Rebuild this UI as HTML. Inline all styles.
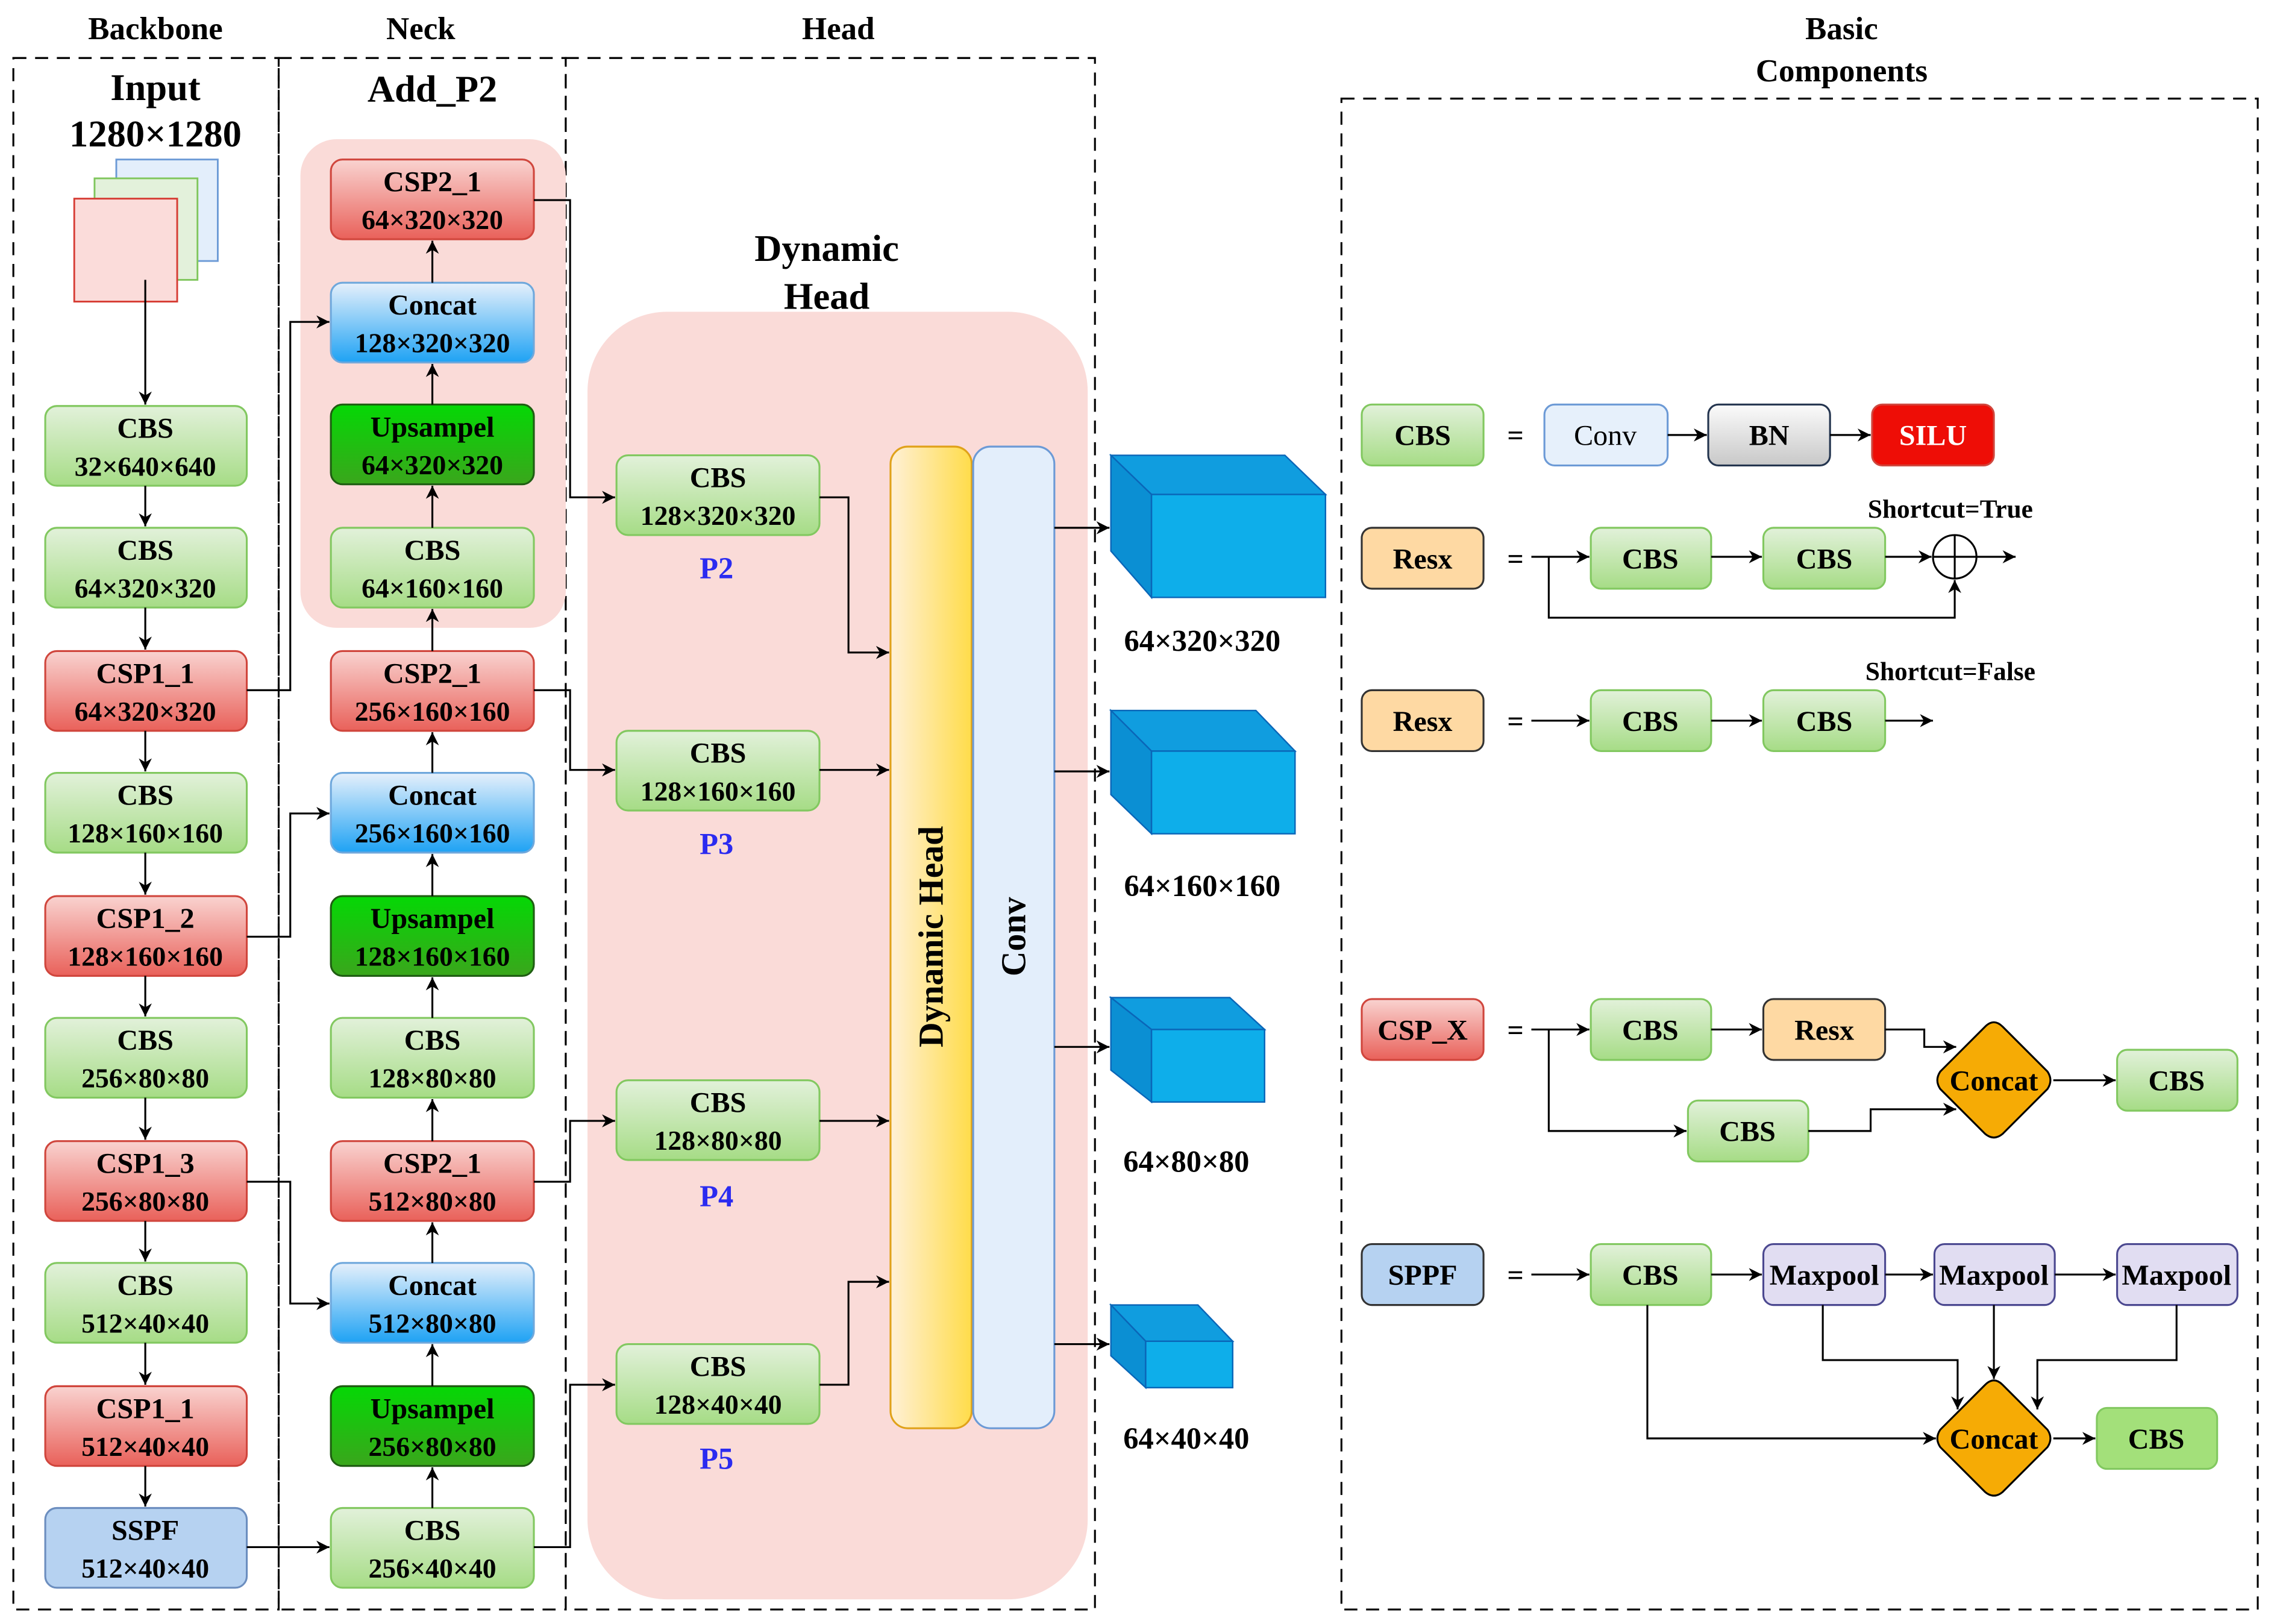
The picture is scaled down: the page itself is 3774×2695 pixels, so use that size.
<!DOCTYPE html>
<html><head><meta charset="utf-8"><style>html,body{margin:0;padding:0;background:#fff}svg{display:block}</style></head>
<body>
<svg xmlns="http://www.w3.org/2000/svg" width="3774" height="2695" viewBox="0 0 1568 1120" font-family="'Liberation Serif', serif" font-weight="bold">
<defs>
<linearGradient id="gG" x1="0" y1="0" x2="0" y2="1"><stop offset="0" stop-color="#e2f1da"/><stop offset="1" stop-color="#a6dc86"/></linearGradient>
<linearGradient id="gR" x1="0" y1="0" x2="0" y2="1"><stop offset="0" stop-color="#f9d3d0"/><stop offset="1" stop-color="#e9615a"/></linearGradient>
<linearGradient id="gB" x1="0" y1="0" x2="0" y2="1"><stop offset="0" stop-color="#e6f0fb"/><stop offset="1" stop-color="#1ea2f4"/></linearGradient>
<linearGradient id="gD" x1="0" y1="0" x2="0" y2="1"><stop offset="0" stop-color="#05d805"/><stop offset="1" stop-color="#3aa61c"/></linearGradient>
<linearGradient id="gN" x1="0" y1="0" x2="0" y2="1"><stop offset="0" stop-color="#fbfbfb"/><stop offset="1" stop-color="#c8c8c8"/></linearGradient>
<linearGradient id="gY" x1="0" y1="0" x2="1" y2="0"><stop offset="0" stop-color="#fff0d6"/><stop offset="1" stop-color="#ffdc4a"/></linearGradient>
<marker id="a" viewBox="0 0 10 10" refX="10" refY="5" markerWidth="9" markerHeight="9" markerUnits="userSpaceOnUse" orient="auto"><path d="M0,0 L10,5 L0,10 L3,5 z" fill="#000"/></marker>
</defs>
<g fill="none" stroke="#000" stroke-width="1.3" stroke-dasharray="9,6">
<rect x="9" y="40" width="183" height="1070"/>
<rect x="192" y="40" width="198" height="1070"/>
<rect x="390" y="40" width="365" height="1070"/>
<rect x="925" y="68" width="632" height="1042"/>
</g>
<g font-size="22" text-anchor="middle">
<text x="107" y="27">Backbone</text><text x="290" y="27">Neck</text><text x="578" y="27">Head</text>
<text x="1270" y="27">Basic</text><text x="1270" y="56">Components</text>
<text x="107" y="69" font-size="26">Input</text><text x="107" y="101" font-size="26">1280×1280</text>
<text x="298" y="70" font-size="26">Add_P2</text>
<text x="570" y="180" font-size="26">Dynamic</text><text x="570" y="213" font-size="26">Head</text>
</g>
<rect x="80" y="110" width="70" height="70" fill="#e3eefb" stroke="#6c9ad6" stroke-width="1.2"/>
<rect x="65" y="123" width="71" height="70" fill="#e3f1db" stroke="#7fc65c" stroke-width="1.2"/>
<rect x="51" y="137" width="71" height="71" fill="#fbdcda" stroke="#d63b33" stroke-width="1.2"/>
<rect x="207" y="96" width="183" height="337" rx="25" fill="#fadbd8"/>
<rect x="405" y="215" width="345" height="888" rx="55" fill="#fadbd8"/>
<g stroke-width="1.3">
<!-- backbone -->
<rect x="31" y="280" width="139" height="55" rx="8" fill="url(#gG)" stroke="#82c860"/>
<rect x="31" y="364" width="139" height="55" rx="8" fill="url(#gG)" stroke="#82c860"/>
<rect x="31" y="449" width="139" height="55" rx="8" fill="url(#gR)" stroke="#d0463d"/>
<rect x="31" y="533" width="139" height="55" rx="8" fill="url(#gG)" stroke="#82c860"/>
<rect x="31" y="618" width="139" height="55" rx="8" fill="url(#gR)" stroke="#d0463d"/>
<rect x="31" y="702" width="139" height="55" rx="8" fill="url(#gG)" stroke="#82c860"/>
<rect x="31" y="787" width="139" height="55" rx="8" fill="url(#gR)" stroke="#d0463d"/>
<rect x="31" y="871" width="139" height="55" rx="8" fill="url(#gG)" stroke="#82c860"/>
<rect x="31" y="956" width="139" height="55" rx="8" fill="url(#gR)" stroke="#d0463d"/>
<rect x="31" y="1040" width="139" height="55" rx="8" fill="#b6d2f1" stroke="#6c8ebf"/>
<!-- neck -->
<rect x="228" y="110" width="140" height="55" rx="8" fill="url(#gR)" stroke="#d0463d"/>
<rect x="228" y="195" width="140" height="55" rx="8" fill="url(#gB)" stroke="#6fa8dc"/>
<rect x="228" y="279" width="140" height="55" rx="8" fill="url(#gD)" stroke="#1f5e12"/>
<rect x="228" y="364" width="140" height="55" rx="8" fill="url(#gG)" stroke="#82c860"/>
<rect x="228" y="449" width="140" height="55" rx="8" fill="url(#gR)" stroke="#d0463d"/>
<rect x="228" y="533" width="140" height="55" rx="8" fill="url(#gB)" stroke="#6fa8dc"/>
<rect x="228" y="618" width="140" height="55" rx="8" fill="url(#gD)" stroke="#1f5e12"/>
<rect x="228" y="702" width="140" height="55" rx="8" fill="url(#gG)" stroke="#82c860"/>
<rect x="228" y="787" width="140" height="55" rx="8" fill="url(#gR)" stroke="#d0463d"/>
<rect x="228" y="871" width="140" height="55" rx="8" fill="url(#gB)" stroke="#6fa8dc"/>
<rect x="228" y="956" width="140" height="55" rx="8" fill="url(#gD)" stroke="#1f5e12"/>
<rect x="228" y="1040" width="140" height="55" rx="8" fill="url(#gG)" stroke="#82c860"/>
<!-- head -->
<rect x="425" y="314" width="140" height="55" rx="8" fill="url(#gG)" stroke="#82c860"/>
<rect x="425" y="504" width="140" height="55" rx="8" fill="url(#gG)" stroke="#82c860"/>
<rect x="425" y="745" width="140" height="55" rx="8" fill="url(#gG)" stroke="#82c860"/>
<rect x="425" y="927" width="140" height="55" rx="8" fill="url(#gG)" stroke="#82c860"/>
<rect x="614" y="308" width="56" height="677" rx="12" fill="url(#gY)" stroke="#e0a21a"/>
<rect x="671" y="308" width="56" height="677" rx="12" fill="#e3eefb" stroke="#6c9ad6"/>
</g>
<g font-size="20" text-anchor="middle">
<text x="100" y="302">CBS</text><text x="100" y="328" font-size="19">32×640×640</text>
<text x="100" y="386">CBS</text><text x="100" y="412" font-size="19">64×320×320</text>
<text x="100" y="471">CSP1_1</text><text x="100" y="497" font-size="19">64×320×320</text>
<text x="100" y="555">CBS</text><text x="100" y="581" font-size="19">128×160×160</text>
<text x="100" y="640">CSP1_2</text><text x="100" y="666" font-size="19">128×160×160</text>
<text x="100" y="724">CBS</text><text x="100" y="750" font-size="19">256×80×80</text>
<text x="100" y="809">CSP1_3</text><text x="100" y="835" font-size="19">256×80×80</text>
<text x="100" y="893">CBS</text><text x="100" y="919" font-size="19">512×40×40</text>
<text x="100" y="978">CSP1_1</text><text x="100" y="1004" font-size="19">512×40×40</text>
<text x="100" y="1062">SSPF</text><text x="100" y="1088" font-size="19">512×40×40</text>

<text x="298" y="132">CSP2_1</text><text x="298" y="158" font-size="19">64×320×320</text>
<text x="298" y="217">Concat</text><text x="298" y="243" font-size="19">128×320×320</text>
<text x="298" y="301">Upsampel</text><text x="298" y="327" font-size="19">64×320×320</text>
<text x="298" y="386">CBS</text><text x="298" y="412" font-size="19">64×160×160</text>
<text x="298" y="471">CSP2_1</text><text x="298" y="497" font-size="19">256×160×160</text>
<text x="298" y="555">Concat</text><text x="298" y="581" font-size="19">256×160×160</text>
<text x="298" y="640">Upsampel</text><text x="298" y="666" font-size="19">128×160×160</text>
<text x="298" y="724">CBS</text><text x="298" y="750" font-size="19">128×80×80</text>
<text x="298" y="809">CSP2_1</text><text x="298" y="835" font-size="19">512×80×80</text>
<text x="298" y="893">Concat</text><text x="298" y="919" font-size="19">512×80×80</text>
<text x="298" y="978">Upsampel</text><text x="298" y="1004" font-size="19">256×80×80</text>
<text x="298" y="1062">CBS</text><text x="298" y="1088" font-size="19">256×40×40</text>

<text x="495" y="336">CBS</text><text x="495" y="362" font-size="19">128×320×320</text>
<text x="495" y="526">CBS</text><text x="495" y="552" font-size="19">128×160×160</text>
<text x="495" y="767">CBS</text><text x="495" y="793" font-size="19">128×80×80</text>
<text x="495" y="949">CBS</text><text x="495" y="975" font-size="19">128×40×40</text>
<g fill="#2b2bf0" font-size="21"><text x="494" y="399">P2</text><text x="494" y="589">P3</text><text x="494" y="832">P4</text><text x="494" y="1013">P5</text></g>
<text transform="translate(650,646) rotate(-90)" font-size="24">Dynamic Head</text>
<text transform="translate(707,646) rotate(-90)" font-size="24">Conv</text>
<g font-size="21"><text x="829" y="449">64×320×320</text><text x="829" y="618">64×160×160</text><text x="818" y="808">64×80×80</text><text x="818" y="999">64×40×40</text></g>
</g>
<!-- cubes -->
<g stroke="#0a66b8" stroke-width="1">
<polygon points="766,314 886,314 914,341 794,341" fill="#109ddf"/><polygon points="766,314 794,341 794,412 766,380" fill="#0b8fd3"/><rect x="794" y="341" width="120" height="71" fill="#0eaeea"/>
<polygon points="766,490 866,490 893,518 794,518" fill="#109ddf"/><polygon points="766,490 794,518 794,575 766,548" fill="#0b8fd3"/><rect x="794" y="518" width="99" height="57" fill="#0eaeea"/>
<polygon points="766,688 848,688 872,710 794,710" fill="#109ddf"/><polygon points="766,688 794,710 794,760 766,738" fill="#0b8fd3"/><rect x="794" y="710" width="78" height="50" fill="#0eaeea"/>
<polygon points="766,900 826,900 850,925 790,925" fill="#109ddf"/><polygon points="766,900 790,925 790,957 766,935" fill="#0b8fd3"/><rect x="790" y="925" width="60" height="32" fill="#0eaeea"/>
</g>
<!-- connectors -->
<g fill="none" stroke="#000" stroke-width="1.3" marker-end="url(#a)">
<path d="M100,193 V279"/><path d="M100,335 V363"/><path d="M100,419 V448"/><path d="M100,504 V532"/><path d="M100,588 V617"/><path d="M100,673 V701"/><path d="M100,757 V786"/><path d="M100,842 V870"/><path d="M100,926 V955"/><path d="M100,1011 V1039"/>
<path d="M298,195 V166"/><path d="M298,279 V251"/><path d="M298,364 V335"/><path d="M298,449 V420"/><path d="M298,533 V505"/><path d="M298,618 V589"/><path d="M298,702 V674"/><path d="M298,787 V758"/><path d="M298,871 V843"/><path d="M298,956 V927"/><path d="M298,1040 V1012"/>
<path d="M170,476 H200 V222 H227"/><path d="M170,646 H200 V561 H227"/><path d="M170,815 H200 V899 H227"/><path d="M170,1067 H227"/>
<path d="M368,138 H393 V343 H424"/><path d="M368,476 H393 V531 H424"/><path d="M368,815 H393 V773 H424"/><path d="M368,1067 H393 V955 H424"/>
<path d="M565,343 H585 V450 H613"/><path d="M565,531 H613"/><path d="M565,773 H613"/><path d="M565,955 H585 V884 H613"/>
<path d="M727,364 H765"/><path d="M727,532 H765"/><path d="M727,722 H765"/><path d="M727,927 H765"/>
</g>
<!-- basic components -->
<g stroke-width="1.3">
<rect x="939" y="279" width="84" height="42" rx="7" fill="url(#gG)" stroke="#82c860"/>
<rect x="1065" y="279" width="85" height="42" rx="7" fill="#e6f0fb" stroke="#6c9ad6"/>
<rect x="1178" y="279" width="84" height="42" rx="7" fill="url(#gN)" stroke="#24354f"/>
<rect x="1291" y="279" width="84" height="42" rx="7" fill="#ee0d06" stroke="#d0463d"/>
<rect x="939" y="364" width="84" height="42" rx="7" fill="#fed9a3" stroke="#333"/>
<rect x="1097" y="364" width="83" height="42" rx="7" fill="url(#gG)" stroke="#82c860"/>
<rect x="1216" y="364" width="84" height="42" rx="7" fill="url(#gG)" stroke="#82c860"/>
<circle cx="1348" cy="384" r="15" fill="#fff" stroke="#000"/>
<path d="M1333,384 H1363 M1348,369 V399" stroke="#000"/>
<rect x="939" y="476" width="84" height="42" rx="7" fill="#fed9a3" stroke="#333"/>
<rect x="1097" y="476" width="83" height="42" rx="7" fill="url(#gG)" stroke="#82c860"/>
<rect x="1216" y="476" width="84" height="42" rx="7" fill="url(#gG)" stroke="#82c860"/>
<rect x="939" y="689" width="84" height="42" rx="7" fill="url(#gR)" stroke="#d0463d"/>
<rect x="1097" y="689" width="83" height="42" rx="7" fill="url(#gG)" stroke="#82c860"/>
<rect x="1216" y="689" width="84" height="42" rx="7" fill="#fed9a3" stroke="#333"/>
<rect x="1164" y="759" width="83" height="42" rx="7" fill="url(#gG)" stroke="#82c860"/>
<rect x="1460" y="724" width="83" height="42" rx="7" fill="url(#gG)" stroke="#82c860"/>
<path d="M1375,705 Q1378,705 1381,708 L1412,739 Q1416,745 1412,751 L1381,782 Q1375,787 1369,782 L1338,751 Q1334,745 1338,739 L1369,708 Q1372,705 1375,705 Z" fill="#f6ab05" stroke="#000"/>
<rect x="939" y="858" width="84" height="42" rx="7" fill="#b6d2f1" stroke="#333"/>
<rect x="1097" y="858" width="83" height="42" rx="7" fill="url(#gG)" stroke="#82c860"/>
<rect x="1216" y="858" width="84" height="42" rx="7" fill="#e1ddf2" stroke="#4b4890"/>
<rect x="1334" y="858" width="83" height="42" rx="7" fill="#e1ddf2" stroke="#4b4890"/>
<rect x="1460" y="858" width="83" height="42" rx="7" fill="#e1ddf2" stroke="#4b4890"/>
<rect x="1446" y="971" width="83" height="42" rx="7" fill="#a3e07a" stroke="#82c860"/>
<path d="M1375,952 Q1378,952 1381,955 L1412,986 Q1416,992 1412,998 L1381,1029 Q1375,1034 1369,1029 L1338,998 Q1334,992 1338,986 L1369,955 Q1372,952 1375,952 Z" fill="#f6ab05" stroke="#000"/>
</g>
<g fill="none" stroke="#000" stroke-width="1.3" marker-end="url(#a)">
<path d="M1150,300 H1177"/><path d="M1262,300 H1290"/>
<path d="M1056,384 H1096"/><path d="M1180,384 H1215"/><path d="M1300,384 H1332"/><path d="M1363,384 H1390"/>
<path d="M1068,384 V426 H1348 V400"/>
<path d="M1056,497 H1096"/><path d="M1180,497 H1215"/><path d="M1300,497 H1333"/>
<path d="M1056,710 H1096"/><path d="M1180,710 H1215"/><path d="M1300,710 H1327 V722 H1349"/>
<path d="M1068,710 V780 H1163"/><path d="M1247,780 H1290 V765 H1349"/><path d="M1416,745 H1459"/>
<path d="M1056,879 H1096"/><path d="M1180,879 H1215"/><path d="M1300,879 H1333"/><path d="M1417,879 H1459"/>
<path d="M1136,900 V992 H1335"/><path d="M1257,900 V938 H1350 V972"/><path d="M1375,900 V951"/><path d="M1501,900 V938 H1405 V972"/>
<path d="M1416,992 H1445"/>
</g>
<g font-size="20" text-anchor="middle">
<text x="981" y="307">CBS</text><text x="1045" y="307">=</text><text x="1107" y="307" font-weight="normal">Conv</text><text x="1220" y="307">BN</text><text x="1333" y="307" fill="#fff">SILU</text>
<text x="981" y="392">Resx</text><text x="1045" y="392">=</text><text x="1138" y="392">CBS</text><text x="1258" y="392">CBS</text>
<text x="1345" y="357" font-size="18">Shortcut=True</text>
<text x="981" y="504">Resx</text><text x="1045" y="504">=</text><text x="1138" y="504">CBS</text><text x="1258" y="504">CBS</text>
<text x="1345" y="469" font-size="18">Shortcut=False</text>
<text x="981" y="717">CSP_X</text><text x="1045" y="717">=</text><text x="1138" y="717">CBS</text><text x="1258" y="717">Resx</text>
<text x="1205" y="787">CBS</text><text x="1375" y="752">Concat</text><text x="1501" y="752">CBS</text>
<text x="981" y="886">SPPF</text><text x="1045" y="886">=</text><text x="1138" y="886">CBS</text>
<text x="1258" y="886">Maxpool</text><text x="1375" y="886">Maxpool</text><text x="1501" y="886">Maxpool</text>
<text x="1375" y="999">Concat</text><text x="1487" y="999">CBS</text>
</g>
</svg>
</body></html>
